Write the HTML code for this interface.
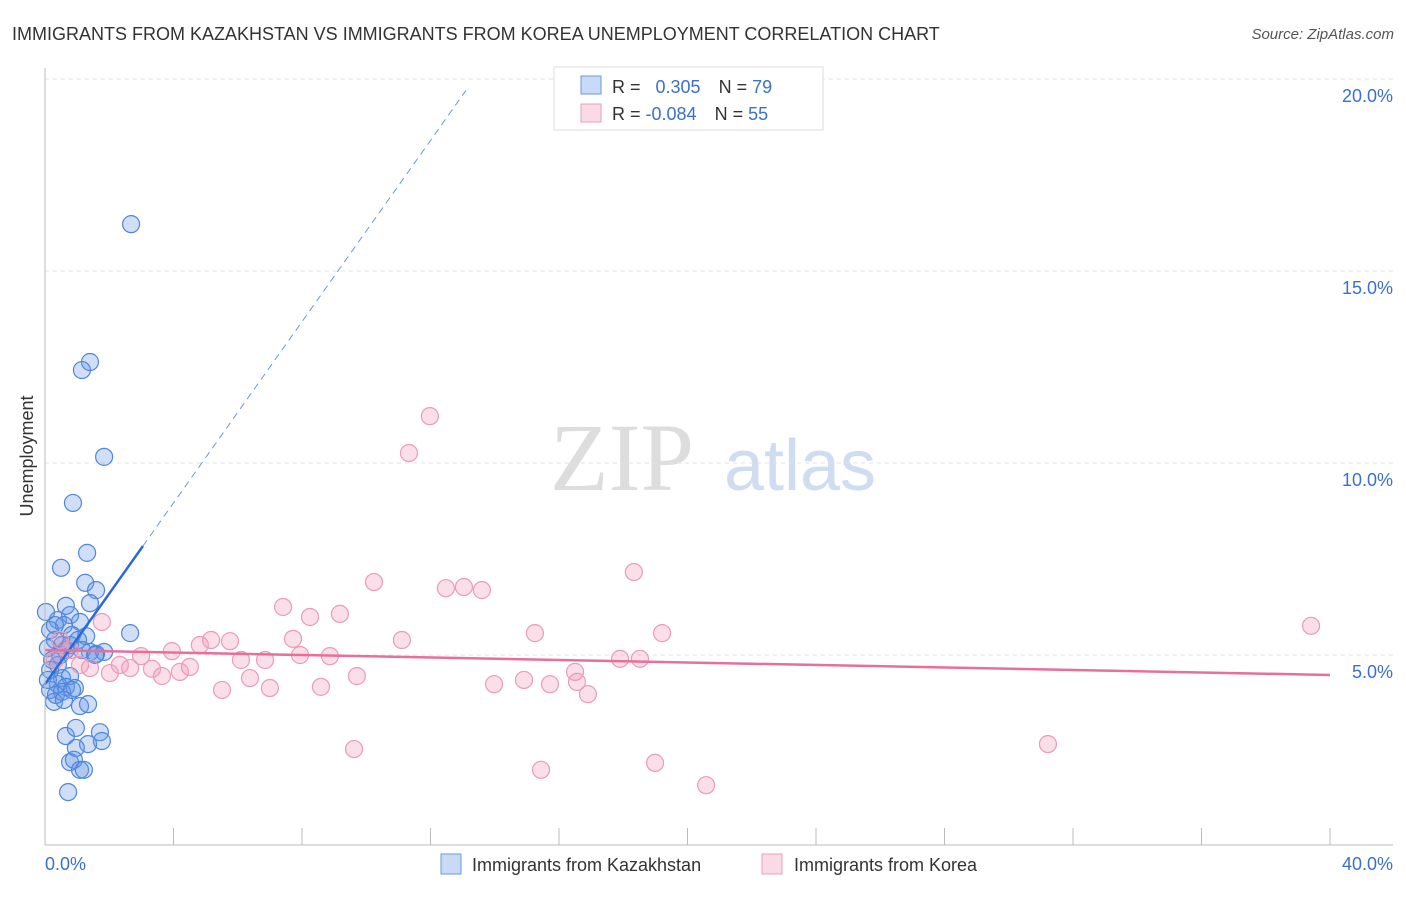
<!DOCTYPE html>
<html><head><meta charset="utf-8"><style>
body{margin:0;background:#fff;font-family:"Liberation Sans",sans-serif;}
svg text{font-family:"Liberation Sans",sans-serif;}
</style></head><body>
<svg id="c" width="1406" height="892">
<text x="12" y="40" font-size="18" fill="#333">IMMIGRANTS FROM KAZAKHSTAN VS IMMIGRANTS FROM KOREA UNEMPLOYMENT CORRELATION CHART</text>
<text x="1394" y="39" font-size="15" fill="#555" font-style="italic" text-anchor="end">Source: ZipAtlas.com</text>
<text x="0" y="0" transform="translate(33,456) rotate(-90)" font-size="18" fill="#333" text-anchor="middle">Unemployment</text>
<text x="622" y="490" font-size="96" fill="#ddd" text-anchor="middle" font-family="Liberation Serif" style="font-family:'Liberation Serif',serif">ZIP</text>
<text x="800" y="490" font-size="72" fill="#cfdcf2" text-anchor="middle">atlas</text>
<g id="grid"></g><g id="pts"></g><g id="lines"></g>
<line x1="45" y1="68" x2="45" y2="845" stroke="#bbb"/>
<line x1="45" y1="845" x2="1393" y2="845" stroke="#bbb"/>
<text x="45" y="870" font-size="18" fill="#3a70d0">0.0%</text>
<text x="1393" y="870" font-size="18" fill="#3a70d0" text-anchor="end">40.0%</text>
<g>
<rect x="554" y="67" width="269" height="63" fill="#fff" stroke="#ddd"/>
<rect x="581" y="76" width="20" height="18" fill="rgba(100,150,230,0.35)" stroke="#6a98e0"/>
<rect x="581" y="104" width="20" height="18" fill="rgba(240,150,180,0.35)" stroke="#e8a0b8"/>
<text x="612" y="93" font-size="18" fill="#333">R = <tspan fill="#3a70d0" dx="10">0.305</tspan><tspan dx="18" fill="#333">N = </tspan><tspan fill="#3a70d0">79</tspan></text>
<text x="612" y="120" font-size="18" fill="#333">R = <tspan fill="#3a70d0">-0.084</tspan><tspan dx="18" fill="#333">N = </tspan><tspan fill="#3a70d0">55</tspan></text>
</g>
<g>
<rect x="441" y="854" width="20" height="20" fill="rgba(100,150,230,0.35)" stroke="#6a98e0"/>
<text x="472" y="871" font-size="18" fill="#333">Immigrants from Kazakhstan</text></g>
<g>
<rect x="762" y="854" width="20" height="20" fill="rgba(240,150,180,0.35)" stroke="#e8a0b8"/>
<text x="794" y="871" font-size="18" fill="#333">Immigrants from Korea</text></g>
</svg>
<script>
const yTicks=[5,10,15,20];
const yTickLabels=["5.0%","10.0%","15.0%","20.0%"];
const xTicks=[0,4,8,12,16,20,24,28,32,36,40];
const kazX=[2.68,1.40,1.15,1.84,0.87,1.31,0.50,1.25,1.59,0.65,1.40,0.03,0.78,0.40,1.09,0.59,0.16,0.84,1.28,2.65,0.31,0.53,1.03,0.09,0.65,1.40,1.59,1.84,0.22,0.40,0.16,0.53,0.78,0.40,0.65,0.93,0.16,0.53,0.84,0.28,1.09,1.34,0.65,0.96,1.71,1.77,1.34,0.96,0.78,0.90,1.09,1.21,0.72,0.31,0.47,0.09,0.78,1.15,1.56,0.34,0.59];
const kazY=[16.22,12.63,12.42,10.16,8.96,7.66,7.27,6.88,6.69,6.28,6.35,6.12,6.04,5.91,5.86,5.78,5.65,5.52,5.49,5.57,5.39,5.26,5.39,5.18,5.13,5.08,5.03,5.08,4.87,4.74,4.61,4.40,4.45,4.24,4.17,4.14,4.09,4.04,4.09,3.78,3.67,3.72,2.89,3.10,2.99,2.76,2.68,2.58,2.21,2.27,2.01,2.01,1.43,5.78,5.00,4.35,5.26,5.13,5.00,3.96,3.83];
const korX=[11.98,11.33,10.24,12.48,13.04,13.60,18.33,7.41,8.25,9.18,1.77,7.72,15.25,19.21,11.11,5.17,5.76,4.82,3.95,2.99,7.94,8.87,6.10,6.85,2.33,2.65,3.33,4.51,1.40,1.09,2.02,3.64,4.20,16.50,17.90,18.52,6.38,9.71,14.91,13.98,15.72,16.56,5.51,7.00,8.59,16.90,9.62,15.44,18.99,20.58,31.22,39.41,0.47,0.78,0.31];
const korY=[11.22,10.26,6.90,6.74,6.77,6.69,7.16,6.25,5.99,6.07,5.86,5.42,5.57,5.57,5.39,5.39,5.36,5.26,5.10,4.97,5.00,4.97,4.87,4.87,4.74,4.66,4.64,4.69,4.66,4.74,4.53,4.45,4.56,4.56,4.90,4.90,4.40,4.45,4.35,4.24,4.24,4.30,4.09,4.14,4.17,3.98,2.55,2.01,2.19,1.61,2.68,5.76,5.39,5.13,4.87];
const kazTrend=[4.24,1.18]; // intercept, slope
const korTrend=[5.13,-0.01625];
const sx=v=>45+v*32.125, sy=v=>847-v*38.4;
const NS="http://www.w3.org/2000/svg";
function mk(t,a,p){const e=document.createElementNS(NS,t);for(const k in a)e.setAttribute(k,a[k]);p.appendChild(e);return e;}
const grid=document.getElementById('grid'),pts=document.getElementById('pts'),lines=document.getElementById('lines');
yTicks.forEach((v,i)=>{
 const l=mk('line',{x1:45,x2:1393,y1:sy(v),y2:sy(v),stroke:'#e3e3e3','stroke-dasharray':'4,4'},grid);
 
 
 const t=mk('text',{x:1393,y:sy(v)+23,'font-size':18,fill:'#3a70d0','text-anchor':'end'},grid);
 t.textContent=yTickLabels[i];
 
 
});
xTicks.forEach(v=>{
 const l=mk('line',{x1:sx(v),x2:sx(v),y1:828,y2:845,stroke:'#bbb'},grid);
 
 
});
kazX.forEach((x,i)=>{
 const c=mk('circle',{cx:sx(x),cy:sy(kazY[i]),r:8.5,fill:'rgba(100,150,230,0.3)',stroke:'#4f86dc','stroke-width':1.2},pts);
 
 
});
korX.forEach((x,i)=>{
 const c=mk('circle',{cx:sx(x),cy:sy(korY[i]),r:8.5,fill:'rgba(240,150,180,0.3)',stroke:'#eb9bb6','stroke-width':1.2},pts);
 
 
});
const kf=x=>kazTrend[0]+kazTrend[1]*x;
let l1=mk('line',{x1:sx(0),y1:sy(kf(0)),x2:sx(3.05),y2:sy(kf(3.05)),stroke:'#2a6ad8','stroke-width':2.5},lines);


let l2=mk('line',{x1:sx(3.05),y1:sy(kf(3.05)),x2:sx(13.1),y2:sy(kf(13.1)),stroke:'#6a98e0','stroke-width':1,'stroke-dasharray':'7,5'},lines);


const pf=x=>korTrend[0]+korTrend[1]*x;
let l3=mk('line',{x1:sx(0),y1:sy(pf(0)),x2:sx(40),y2:sy(pf(40)),stroke:'#e86f9a','stroke-width':2.5},lines);


</script>
</body></html>
